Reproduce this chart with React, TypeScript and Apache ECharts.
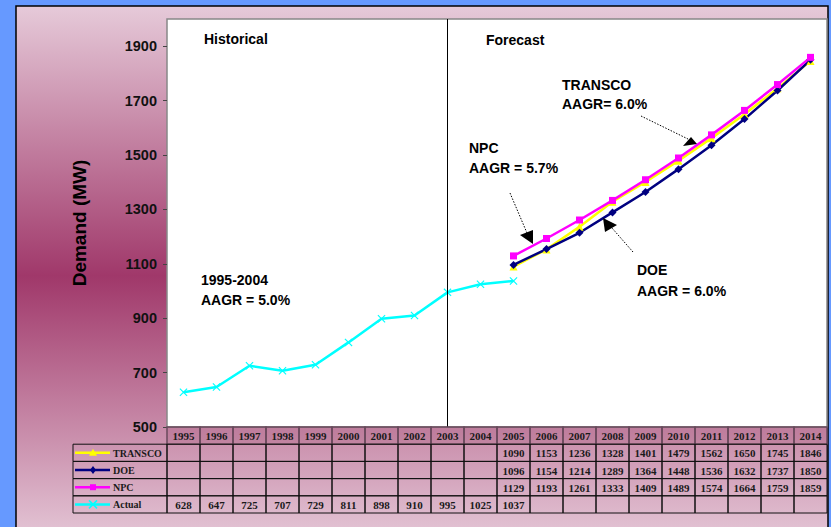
import React, { useEffect, useRef } from 'react';
import * as echarts from 'echarts';

const years = ['1995','1996','1997','1998','1999','2000','2001','2002','2003','2004','2005','2006','2007','2008','2009','2010','2011','2012','2013','2014'];
const transco = [null,null,null,null,null,null,null,null,null,null,1090,1153,1236,1328,1401,1479,1562,1650,1745,1846];
const doe = [null,null,null,null,null,null,null,null,null,null,1096,1154,1214,1289,1364,1448,1536,1632,1737,1850];
const npc = [null,null,null,null,null,null,null,null,null,null,1129,1193,1261,1333,1409,1489,1574,1664,1759,1859];
const actual = [628,647,725,707,729,811,898,910,995,1025,1037,null,null,null,null,null,null,null,null,null];
const yTicks = [500,700,900,1100,1300,1500,1700,1900];
const rowNames = ['TRANSCO','DOE','NPC','Actual'];
const rowColors = ['#FFFF00','#000080','#FF00FF','#00FFFF'];
const tableRows = ['', 'TRANSCO', 'DOE', 'NPC', 'Actual'];

const W = 831, H = 527;
const GRID_LEFT = 167, GRID_TOP = 19, GRID_W = 660, GRID_H = 408;
const TABLE_H = 86;
const LABEL_W = 94;

const CROSS = 'path://M0,1L1,0L5,4L9,0L10,1L6,5L10,9L9,10L5,6L1,10L0,9L4,5Z';
const annFont = 'bold 14px "Liberation Sans", Arial, sans-serif';
const tableFont = 'bold 11px "Liberation Serif", serif';
const rowLabelFont = 'bold 10px "Liberation Serif", serif';

export default function App() {
  const ref = useRef<HTMLDivElement>(null);
  useEffect(() => {
    document.body.style.margin = '0';
    const chart = echarts.init(ref.current!, null, { renderer: 'svg' });
    const rowData = [transco, doe, npc, actual];
    const cells: number[][] = [];
    for (let r = 0; r < 5; r++) for (let c = 0; c < years.length; c++) cells.push([c, r]);
    const cellCount = cells.length;
    for (let r = 1; r < 5; r++) cells.push([0, r]);

    const renderItem = (params: any, api: any) => {
      const c = api.value(0), r = api.value(1);
      const p = api.coord([c, r]);
      const s = api.size([1, 1]);
      const w = s[0], h = s[1];
      if (params.dataIndex < cellCount) {
        const header = r === 0;
        let text = '';
        if (header) text = years[c];
        else {
          const v = rowData[r - 1][c];
          text = v == null ? '' : String(v);
        }
        return {
          type: 'group',
          children: [
            { type: 'rect', shape: { x: p[0] - w / 2, y: p[1] - h / 2, width: w, height: h },
              style: { fill: header ? 'rgba(130,40,80,0.13)' : 'rgba(0,0,0,0)', stroke: header ? '#6a4a5c' : '#111', lineWidth: header ? 1.5 : 1 } },
            { type: 'text', x: p[0], y: p[1] + 0.5,
              style: { text, font: tableFont, fill: '#1a1a1a', align: 'center', verticalAlign: 'middle' } },
          ],
        };
      }
      const i = r - 1;
      const x0 = p[0] - w / 2 - LABEL_W;
      const cy = p[1];
      const mx = x0 + 20;
      const col = rowColors[i];
      let marker: any;
      if (i === 0) marker = { type: 'polygon', shape: { points: [[mx, cy - 4], [mx - 4, cy + 3], [mx + 4, cy + 3]] }, style: { fill: col } };
      else if (i === 1) marker = { type: 'polygon', shape: { points: [[mx, cy - 4], [mx + 3, cy], [mx, cy + 4], [mx - 3, cy]] }, style: { fill: col } };
      else if (i === 2) marker = { type: 'rect', shape: { x: mx - 3, y: cy - 3, width: 6, height: 6 }, style: { fill: col } };
      else marker = { type: 'group', children: [
        { type: 'line', shape: { x1: mx - 4, y1: cy - 4, x2: mx + 4, y2: cy + 4 }, style: { stroke: col, lineWidth: 1.5 } },
        { type: 'line', shape: { x1: mx - 4, y1: cy + 4, x2: mx + 4, y2: cy - 4 }, style: { stroke: col, lineWidth: 1.5 } },
      ] };
      return {
        type: 'group',
        children: [
          { type: 'rect', shape: { x: x0, y: p[1] - h / 2, width: LABEL_W, height: h }, style: { fill: 'rgba(0,0,0,0)', stroke: '#111', lineWidth: 1 } },
          { type: 'line', shape: { x1: x0 + 2, y1: cy, x2: x0 + 37, y2: cy }, style: { stroke: col, lineWidth: 2.5 } },
          marker,
          { type: 'text', x: x0 + 40, y: cy + 0.5, style: { text: rowNames[i], font: rowLabelFont, fill: '#1a1a1a', align: 'left', verticalAlign: 'middle' } },
        ],
      };
    };

    const ann = (text: string, x: number, y: number) => ({
      type: 'text', x, y, z: 100,
      style: { text, font: annFont, fill: '#000', align: 'left', verticalAlign: 'middle' },
    });
    const dotted = (x1: number, y1: number, x2: number, y2: number) => ({
      type: 'line', z: 100, shape: { x1, y1, x2, y2 }, style: { stroke: '#000', lineWidth: 1, lineDash: [1.5, 1.5] },
    });
    const tri = (pts: number[][]) => ({ type: 'polygon', z: 100, shape: { points: pts }, style: { fill: '#000' } });

    const lineSeries = (name: string, data: any[], color: string, symbol: string, size: number) => ({
      name, type: 'line', data, xAxisIndex: 0, yAxisIndex: 0,
      symbol, symbolSize: size, showSymbol: true,
      lineStyle: { color, width: 2.5 }, itemStyle: { color },
      connectNulls: false, z: 3,
    });

    chart.setOption({
      animation: false,
      backgroundColor: '#6699FF',
      graphic: [
        { type: 'rect', z: -100, shape: { x: 16, y: 6, width: 812, height: 540 },
          style: { stroke: '#000', lineWidth: 1.5,
            fill: new echarts.graphic.LinearGradient(0, 0, 0, 1, [
              { offset: 0, color: '#E6CAD9' },
              { offset: 0.5, color: '#A0386A' },
              { offset: 1, color: '#E6CAD9' },
            ]) } },
        ann('Historical', 204, 39),
        ann('Forecast', 486, 40),
        ann('TRANSCO', 562, 85),
        ann('AAGR= 6.0%', 562, 104),
        ann('NPC', 469, 148),
        ann('AAGR = 5.7%', 469, 168),
        ann('DOE', 637, 270),
        ann('AAGR = 6.0%', 637, 291),
        ann('1995-2004', 201, 280),
        ann('AAGR = 5.0%', 201, 300),
        dotted(641, 116, 688, 139),
        tri([[683, 146], [691, 137], [697, 144]]),
        dotted(510, 193, 527, 233),
        tri([[520, 235], [533, 230], [533, 244]]),
        dotted(633, 252, 612, 228),
        tri([[603, 218], [605, 232], [617, 225]]),
      ],
      grid: [
        { left: GRID_LEFT, top: GRID_TOP, width: GRID_W, height: GRID_H, show: true, backgroundColor: '#fff', borderColor: '#888', borderWidth: 1.5, outerBoundsMode: 'none', containLabel: false },
        { left: GRID_LEFT, top: GRID_TOP + GRID_H, width: GRID_W, height: TABLE_H, show: false, outerBoundsMode: 'none', containLabel: false },
      ],
      xAxis: [
        { type: 'category', data: years, gridIndex: 0, show: false, boundaryGap: true },
        { type: 'category', data: years, gridIndex: 1, show: false, boundaryGap: true },
      ],
      yAxis: [
        { type: 'value', gridIndex: 0, min: 500, max: 2000,
          name: 'Demand (MW)', nameLocation: 'middle', nameGap: 78,
          nameTextStyle: { fontSize: 19, fontWeight: 'bold', color: '#000', fontFamily: '"Liberation Sans", Arial, sans-serif' },
          axisLine: { show: false },
          axisTick: { show: true, length: 4, lineStyle: { color: '#444' }, customValues: yTicks },
          axisLabel: { customValues: yTicks, formatter: (v: number) => String(v), fontSize: 14.5, fontWeight: 'bold', color: '#111', margin: 10, fontFamily: '"Liberation Sans", Arial, sans-serif' },
          splitLine: { show: false } },
        { type: 'category', data: tableRows, gridIndex: 1, inverse: true, show: false },
      ],
      series: [
        lineSeries('TRANSCO', transco, '#FFFF00', 'triangle', 8),
        lineSeries('DOE', doe, '#000080', 'diamond', 8),
        lineSeries('NPC', npc, '#FF00FF', 'rect', 7),
        { ...lineSeries('Actual', actual, '#00FFFF', CROSS, 8),
          markLine: { silent: true, symbol: 'none', label: { show: false },
            lineStyle: { color: '#000', width: 1, type: 'solid' }, data: [{ xAxis: '2003' }] } },
        { type: 'custom', xAxisIndex: 1, yAxisIndex: 1, data: cells, renderItem, encode: { x: 0, y: 1 }, z: 5, silent: true },
      ],
    });
    return () => chart.dispose();
  }, []);
  return <div ref={ref} style={{ position: 'absolute', left: 0, top: 0, width: W, height: H }} />;
}
